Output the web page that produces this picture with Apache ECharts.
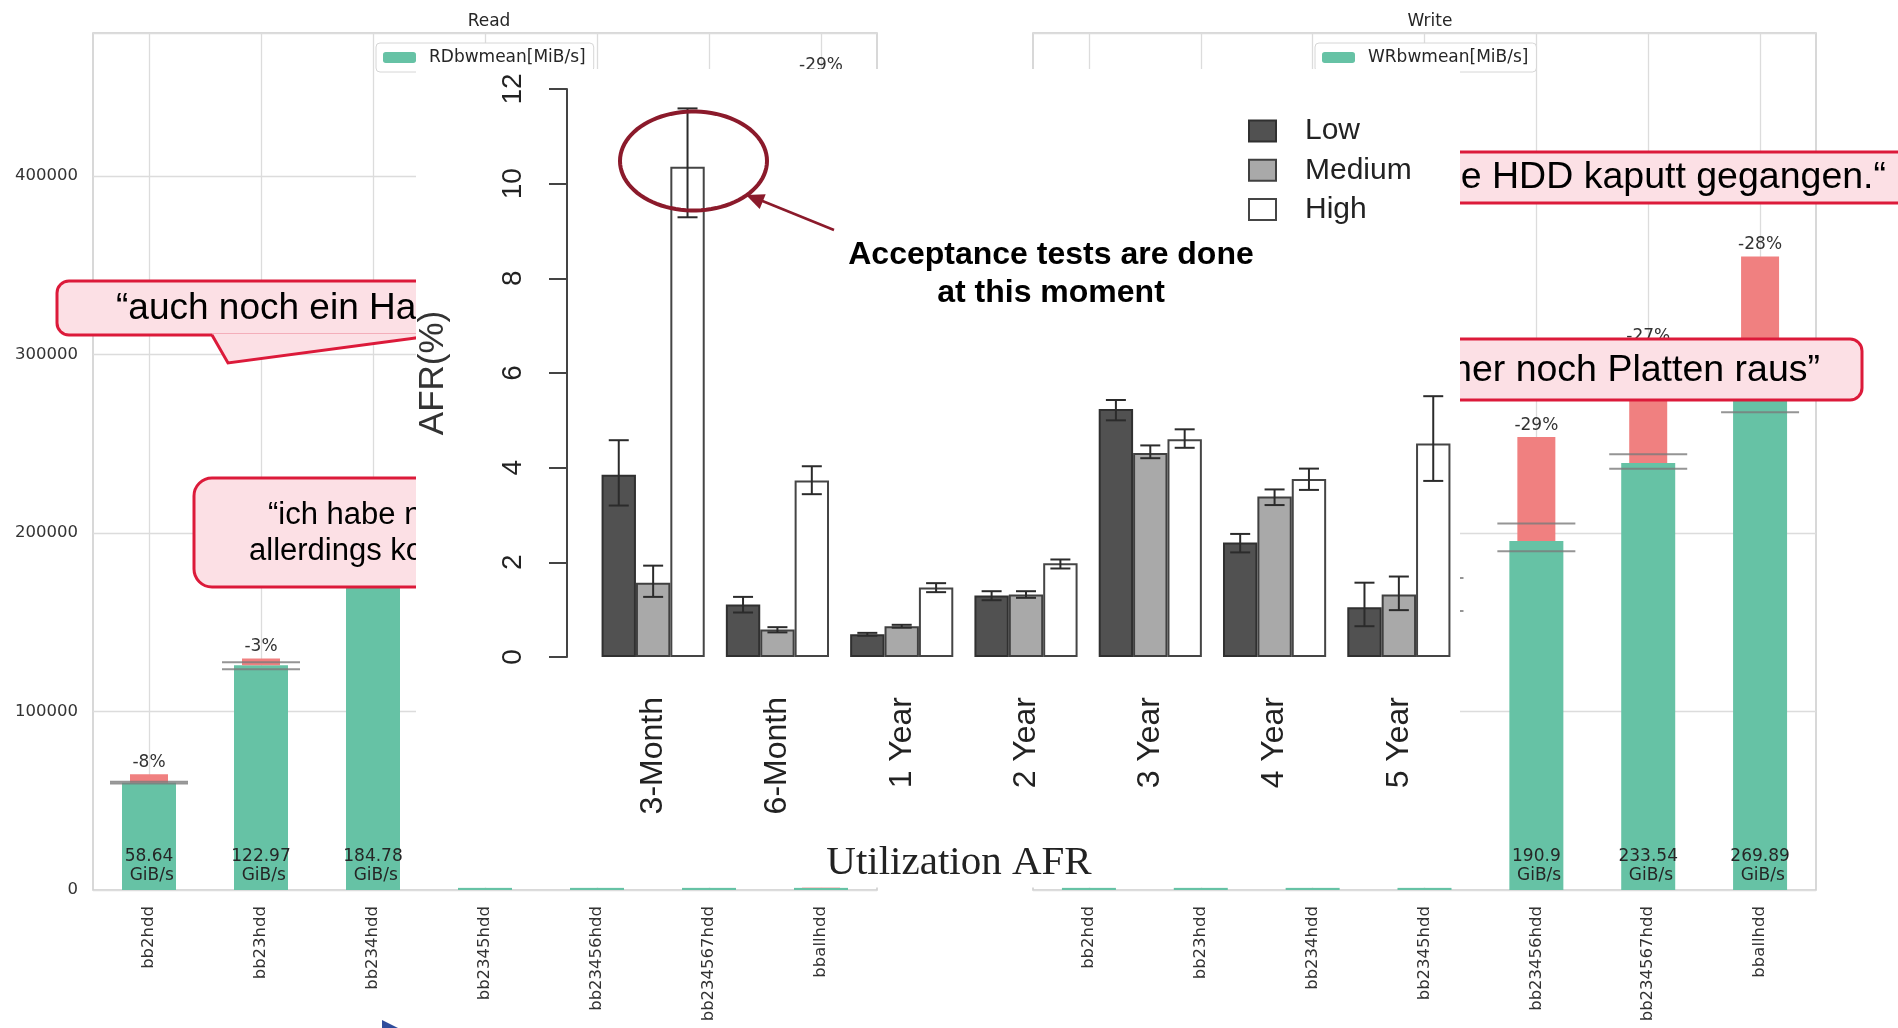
<!DOCTYPE html>
<html>
<head>
<meta charset="utf-8">
<script src="https://cdn.jsdelivr.net/npm/echarts/dist/echarts.min.js"></script>
<style>
html,body{margin:0;padding:0;background:#fff;}
#c{width:1898px;height:1028px;}
</style>
</head>
<body>
<div id="c"></div>
<script>
// ---------- data: main Read / Write panels (MiB/s) ----------
const drives = ['bb2hdd','bb23hdd','bb234hdd','bb2345hdd','bb23456hdd','bb234567hdd','bballhdd'];
const readBw = [60047, 125921, 189215, 1200, 1200, 1200, 1200];
const readBwLabel = ['58.64','122.97','184.78','','','',''];
const readRed = [4800, 3800, 17000, null, null, null, 454000];
const readPct = ['-8%','-3%','-9%','','','','-29%'];
const readHi = [60600, 127500, 196000, null, null, null, null];
const readLo = [59600, 123700, 185000, null, null, null, null];

const writeBw = [1200, 1200, 1200, 1200, 195482, 239145, 276367];
const writeBwLabel = ['','','','','190.9','233.54','269.89'];
const writeRed = [null, null, null, null, 58300, 64600, 78500];
const writePct = ['','','','','-29%','-27%','-28%'];
const writeHi = [null, null, null, 174700, 205300, 244100, 283000];
const writeLo = [null, null, null, 156200, 189800, 235900, 267600];

const bwMax = 480000, bwStep = 100000;

// ---------- data: inset AFR chart (%) ----------
const afrCats = ['3-Month','6-Month','1 Year','2 Year','3 Year','4 Year','5 Year'];
const afrLow    = [3.85, 1.11, 0.48, 1.30, 5.24, 2.42, 1.05];
const afrLowLo  = [3.20, 0.94, 0.45, 1.20, 5.00, 2.21, 0.65];
const afrLowHi  = [4.58, 1.27, 0.51, 1.39, 5.43, 2.60, 1.57];
const afrMed    = [1.57, 0.58, 0.65, 1.32, 4.31, 3.39, 1.32];
const afrMedLo  = [1.27, 0.52, 0.62, 1.25, 4.20, 3.21, 0.99];
const afrMedHi  = [1.93, 0.63, 0.68, 1.39, 4.47, 3.54, 1.70];
const afrHigh   = [10.36, 3.73, 1.47, 1.98, 4.60, 3.76, 4.51];
const afrHighLo = [9.29, 3.44, 1.37, 1.87, 4.42, 3.53, 3.72];
const afrHighHi = [11.59, 4.03, 1.56, 2.06, 4.81, 3.98, 5.51];

// ---------- styling ----------
const F = 'DejaVu Sans';
const GREEN = '#66c2a5', RED = '#f08080';
const GAPPCT = 0.17;

function mainX(grid, show) {
  return {
    type:'category', gridIndex:grid, data:drives, show:show,
    axisLine:{show:false}, axisTick:{show:false},
    axisLabel:{rotate:90, margin:16, fontFamily:F, fontSize:16.5, color:'#333'},
    splitLine:{show:show, alignWithLabel:true, lineStyle:{color:'#dcdcdc', width:1.3}}
  };
}
function mainY(grid, showLabel) {
  return {
    type:'value', gridIndex:grid, min:0, max:bwMax, interval:bwStep,
    axisLine:{show:false}, axisTick:{show:false},
    axisLabel:{show:showLabel, margin:15, fontFamily:F, fontSize:16.5, color:'#333',
      formatter: v => (v % bwStep === 0 ? String(v) : '')},
    splitLine:{lineStyle:{color:'#dcdcdc', width:1.3}}
  };
}
function panelSeries(name, xi, xiHidden, yi, bw, bwLabel, red, pct, hi, lo, stackId) {
  const pts = arr => arr.map((v,i) => v == null ? null : [i, v]).filter(Boolean);
  return [
    {type:'bar', name:name, xAxisIndex:xi, yAxisIndex:yi, data:bw, barWidth:54,
      itemStyle:{color:GREEN}, z:2,
      label:{show:true, position:'insideBottom', distance:5, fontFamily:F, fontSize:17, lineHeight:19,
        color:'#262626', formatter: p => bwLabel[p.dataIndex] ? bwLabel[p.dataIndex] + '\n GiB/s' : ''}},
    {type:'bar', name:name+' base', xAxisIndex:xiHidden, yAxisIndex:yi, data:bw, barWidth:38,
      stack:stackId, itemStyle:{color:'rgba(0,0,0,0)'}, z:2, silent:true},
    {type:'bar', name:name+' diff', xAxisIndex:xiHidden, yAxisIndex:yi, data:red, barWidth:38,
      stack:stackId, itemStyle:{color:RED}, z:2,
      label:{show:true, position:'top', distance:3, fontFamily:F, fontSize:17, color:'#333',
        formatter: p => pct[p.dataIndex] || ''}},
    {type:'scatter', name:name+' hi', xAxisIndex:xi, yAxisIndex:yi, data:pts(hi),
      symbol:'rect', symbolSize:[78,2], itemStyle:{color:'#7a7a7a'}, z:3, silent:true},
    {type:'scatter', name:name+' lo', xAxisIndex:xi, yAxisIndex:yi, data:pts(lo),
      symbol:'rect', symbolSize:[78,2], itemStyle:{color:'#7a7a7a'}, z:3, silent:true}
  ];
}
function errSeries(name, idx, lo, hi) {
  return {
    type:'custom', name:name, xAxisIndex:4, yAxisIndex:2, z:43, silent:true,
    data: afrCats.map((c,i) => [i, lo[i], hi[i]]),
    encode:{x:0, y:[1,2]},
    renderItem: (params, api) => {
      const cat = api.value(0);
      const band = api.size([1,0])[0];
      const bw = band * (1 - GAPPCT) / 3;
      const off = (idx - 1) * bw;
      const pHi = api.coord([cat, api.value(2)]);
      const pLo = api.coord([cat, api.value(1)]);
      const x = pHi[0] + off, cap = 10;
      const st = {stroke:'#2b2b2b', lineWidth:2};
      return {type:'group', children:[
        {type:'line', shape:{x1:x, y1:pHi[1], x2:x, y2:pLo[1]}, style:st},
        {type:'line', shape:{x1:x-cap, y1:pHi[1], x2:x+cap, y2:pHi[1]}, style:st},
        {type:'line', shape:{x1:x-cap, y1:pLo[1], x2:x+cap, y2:pLo[1]}, style:st}
      ]};
    }
  };
}

const PINK = '#fce0e5', CRIMSON = '#dc1a3a';
const callFont = 'Liberation Sans';
const ANN = '#8b1a2b';

// outline of the annotation ellipse around the 3-Month/High error bar
const ellipsePts = [];
for (let k = 0; k < 90; k++) {
  const t = k / 90 * Math.PI * 2;
  ellipsePts.push([693.5 + 73.5 * Math.cos(t), 161 + 49.5 * Math.sin(t)]);
}

const option = {
  animation:false,
  backgroundColor:'#ffffff',
  title:[
    {text:'Read', left:484, top:8, textAlign:'center', textStyle:{fontFamily:F, fontSize:17, fontWeight:'normal', color:'#262626'}},
    {text:'Write', left:1425, top:8, textAlign:'center', textStyle:{fontFamily:F, fontSize:17, fontWeight:'normal', color:'#262626'}}
  ],
  legend:[
    {data:['RDbwmean[MiB/s]'], left:376, top:43, itemWidth:33, itemHeight:11, padding:[6,8,6,7],
      backgroundColor:'#fff', borderColor:'#d6d6d6', borderWidth:1, borderRadius:4, z:4,
      textStyle:{fontFamily:F, fontSize:17, color:'#262626', padding:[0,0,0,8]}},
    {data:['WRbwmean[MiB/s]'], left:1315, top:43, itemWidth:33, itemHeight:11, padding:[6,8,6,7],
      backgroundColor:'#fff', borderColor:'#d6d6d6', borderWidth:1, borderRadius:4, z:4,
      textStyle:{fontFamily:F, fontSize:17, color:'#262626', padding:[0,0,0,8]}},
    {data:['Low','Medium','High'], orient:'vertical', left:1248, top:116, itemWidth:27, itemHeight:21,
      itemGap:9.3, padding:0, z:45, icon:'rect',
      textStyle:{fontFamily:'Liberation Sans', fontSize:30, color:'#222', padding:[0,0,0,24]}}
  ],
  grid:[
    {left:93, top:33, width:784, height:857, show:true, borderColor:'#cccccc', borderWidth:1.5, backgroundColor:'transparent'},
    {left:1033, top:33, width:783, height:857, show:true, borderColor:'#cccccc', borderWidth:1.5, backgroundColor:'transparent'},
    {left:591, top:89, width:870, height:568, show:false}
  ],
  xAxis:[
    mainX(0, true), mainX(0, false), mainX(1, true), mainX(1, false),
    {type:'category', gridIndex:2, data:afrCats, z:40,
      axisLine:{show:false}, axisTick:{show:false}, splitLine:{show:false},
      axisLabel:{rotate:90, margin:40, fontFamily:'Liberation Sans', fontSize:32, color:'#222'},
      name:'Utilization AFR', nameLocation:'middle', nameGap:186,
      nameTextStyle:{fontFamily:'Liberation Serif', fontSize:41, color:'#222', padding:[0,134,0,0]}}
  ],
  yAxis:[
    mainY(0, true), mainY(1, false),
    {type:'value', gridIndex:2, min:0, max:12, interval:2, offset:24, z:40,
      axisLine:{show:true, lineStyle:{color:'#444', width:2}},
      axisTick:{show:true, length:18, lineStyle:{color:'#444', width:2}},
      axisLabel:{rotate:90, margin:40, fontFamily:'Liberation Sans', fontSize:28, color:'#222'},
      splitLine:{show:false},
      name:'AFR(%)', nameLocation:'middle', nameRotate:90, nameGap:116,
      nameTextStyle:{fontFamily:'Liberation Sans', fontSize:35, color:'#333'}}
  ],
  series:[
    ...panelSeries('RDbwmean[MiB/s]', 0, 1, 0, readBw, readBwLabel, readRed, readPct, readHi, readLo, 'r'),
    ...panelSeries('WRbwmean[MiB/s]', 2, 3, 1, writeBw, writeBwLabel, writeRed, writePct, writeHi, writeLo, 'w'),
    {type:'bar', name:'Low', xAxisIndex:4, yAxisIndex:2, data:afrLow, barGap:'0%', barCategoryGap:(GAPPCT*100)+'%',
      itemStyle:{color:'#515151', borderColor:'#303030', borderWidth:2}, z:41},
    {type:'bar', name:'Medium', xAxisIndex:4, yAxisIndex:2, data:afrMed, barGap:'0%', barCategoryGap:(GAPPCT*100)+'%',
      itemStyle:{color:'#a9a9a9', borderColor:'#404040', borderWidth:2}, z:41},
    {type:'bar', name:'High', xAxisIndex:4, yAxisIndex:2, data:afrHigh, barGap:'0%', barCategoryGap:(GAPPCT*100)+'%',
      itemStyle:{color:'#ffffff', borderColor:'#454545', borderWidth:2}, z:41},
    errSeries('Low err', 0, afrLowLo, afrLowHi),
    errSeries('Medium err', 1, afrMedLo, afrMedHi),
    errSeries('High err', 2, afrHighLo, afrHighHi)
  ],
  graphic:{elements:[
    // callout A (rounded box + tail)
    {type:'rect', z:20, shape:{x:57, y:281, width:720, height:54, r:12}, style:{fill:PINK, stroke:CRIMSON, lineWidth:3}},
    {type:'polygon', z:21, shape:{points:[[212,333.5],[228,363],[438,333.5]]}, style:{fill:PINK}},
    {type:'polyline', z:22, shape:{points:[[212,335],[228,363],[438,335]]}, style:{stroke:CRIMSON, lineWidth:3, fill:'none'}},
    {type:'text', z:23, x:116, y:309, style:{text:'\u201Cauch noch ein Hardwarefehler\u201D', fontFamily:callFont, fontSize:37, fill:'#000', textAlign:'left', textVerticalAlign:'middle'}},
    // callout B
    {type:'rect', z:20, shape:{x:194, y:478, width:590, height:109, r:18}, style:{fill:PINK, stroke:CRIMSON, lineWidth:3}},
    {type:'text', z:23, x:268, y:515, style:{text:'\u201Cich habe neue Platten bestellt,', fontFamily:callFont, fontSize:31, fill:'#000', textAlign:'left', textVerticalAlign:'middle'}},
    {type:'text', z:23, x:249, y:551, style:{text:'allerdings kommen die erst sp\u00E4ter\u201D', fontFamily:callFont, fontSize:31, fill:'#000', textAlign:'left', textVerticalAlign:'middle'}},
    // callout C
    {type:'rect', z:20, shape:{x:1100, y:152, width:820, height:51}, style:{fill:PINK, stroke:CRIMSON, lineWidth:3}},
    {type:'text', z:23, x:1886, y:178, style:{text:'\u201EBei mir ist eine HDD kaputt gegangen.\u201C', fontFamily:callFont, fontSize:37.5, fill:'#000', textAlign:'right', textVerticalAlign:'middle'}},
    // callout D
    {type:'rect', z:20, shape:{x:1100, y:339, width:762, height:61, r:[0,12,12,0]}, style:{fill:PINK, stroke:CRIMSON, lineWidth:3}},
    {type:'text', z:23, x:1820, y:371, style:{text:'\u201EEs fallen immer noch Platten raus\u201D', fontFamily:callFont, fontSize:37.5, fill:'#000', textAlign:'right', textVerticalAlign:'middle'}},
    // blue arrow tip at bottom
    {type:'polygon', z:20, shape:{points:[[382,1020],[410,1034],[382,1048]]}, style:{fill:'#2f4c9c'}},
    // inset white backing
    {type:'rect', z:30, shape:{x:416, y:69, width:1044, height:818.5}, style:{fill:'#ffffff'}},
    // annotation in inset
    {type:'polygon', z:50, shape:{points:ellipsePts}, style:{fill:'none', stroke:ANN, lineWidth:4}},
    {type:'line', z:50, shape:{x1:834, y1:230, x2:760, y2:200}, style:{stroke:ANN, lineWidth:2.5}},
    {type:'polygon', z:50, shape:{points:[[746,195],[765.7,194.2],[759.7,209.1]]}, style:{fill:ANN}},
    {type:'text', z:50, x:1051, y:255, style:{text:'Acceptance tests are done', fontFamily:'Liberation Sans', fontWeight:'bold', fontSize:32, fill:'#000', textAlign:'center', textVerticalAlign:'middle'}},
    {type:'text', z:50, x:1051, y:293, style:{text:'at this moment', fontFamily:'Liberation Sans', fontWeight:'bold', fontSize:32, fill:'#000', textAlign:'center', textVerticalAlign:'middle'}}
  ]}
};

const chart = echarts.init(document.getElementById('c'), null, {renderer:'canvas'});
chart.setOption(option);
</script>
</body>
</html>
